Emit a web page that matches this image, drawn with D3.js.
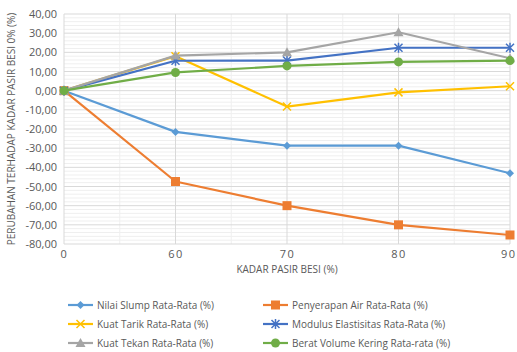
<!DOCTYPE html>
<html><head><meta charset="utf-8">
<script src="https://cdn.jsdelivr.net/npm/d3@7"></script>
<style>body{margin:0;background:#fff}text{font-family:"Open Sans",sans-serif;fill:#595959}</style>
</head><body><svg id="c" width="517" height="352"></svg>
<script>
const categories = ["0","60","70","80","90"];
const slump = [0, -21.5, -28.7, -28.7, -43.1];
const penyerapan = [0, -47.4, -60.0, -70.0, -75.3];
const tarik = [0, 18.0, -8.3, -0.9, 2.3];
const modulus = [0, 15.6, 15.7, 22.4, 22.4];
const tekan = [0, 18.3, 20.0, 30.5, 16.9];
const berat = [0, 9.5, 12.9, 15.0, 15.7];
const yTicks = [40,30,20,10,0,-10,-20,-30,-40,-50,-60,-70,-80];
const seriesNames = ["Nilai Slump Rata-Rata (%)","Penyerapan Air Rata-Rata (%)","Kuat Tarik Rata-Rata (%)","Modulus Elastisitas Rata-Rata (%)","Kuat Tekan Rata-Rata (%)","Berat Volume Kering Rata-rata (%)"];
const colors = ["#5B9BD5","#ED7D31","#FFC000","#4472C4","#A5A5A5","#70AD47"];
const markers = ["diamond","square","x","star","triangle","circle"];
const data = [slump, penyerapan, tarik, modulus, tekan, berat];

const svg = d3.select("#c");
const L=64, R=510, T=14, B=244;
const x = d3.scalePoint().domain(categories).range([L,R]);
const y = d3.scaleLinear().domain([-80,40]).range([B,T]);
const g = svg.append("g");
d3.range(-80,40.1,2).forEach(v=>{ if(v%10!==0) g.append("line").attr("x1",L).attr("x2",R).attr("y1",y(v)).attr("y2",y(v)).attr("stroke","#efefef").attr("stroke-width",1);});
for(let i=0;i<categories.length-1;i++){ const xm=(x(categories[i])+x(categories[i+1]))/2; g.append("line").attr("x1",xm).attr("x2",xm).attr("y1",T).attr("y2",B).attr("stroke","#efefef");}
yTicks.forEach(v=>g.append("line").attr("x1",L).attr("x2",R).attr("y1",y(v)).attr("y2",y(v)).attr("stroke","#d9d9d9"));
categories.forEach(c=>g.append("line").attr("x1",x(c)).attr("x2",x(c)).attr("y1",T).attr("y2",B).attr("stroke","#d9d9d9"));

const fmt = v => v.toFixed(2).replace(".",",");
const ya = svg.append("g").attr("transform",`translate(${L-7},0)`).call(d3.axisLeft(y).tickValues(yTicks).tickFormat(fmt).tickSize(0).tickPadding(0));
ya.select(".domain").remove();
ya.selectAll("text").attr("font-size",11).attr("fill","#595959").style("font-family","Open Sans");
const xa = svg.append("g").attr("transform",`translate(0,${B+6})`).call(d3.axisBottom(x).tickSize(0).tickPadding(0));
xa.select(".domain").remove();
xa.selectAll("text").attr("font-size",11).attr("fill","#595959").attr("dy","0.75em").style("letter-spacing","1.5px").style("font-family","Open Sans");
xa.selectAll("text").filter(d=>d==="90").attr("text-anchor","end").attr("dx","6");

svg.append("text").attr("x",287).attr("y",273).attr("text-anchor","middle").attr("font-size",10).text("KADAR PASIR BESI (%)");
svg.append("text").attr("transform",`translate(15,${(T+B)/2}) rotate(-90)`).attr("text-anchor","middle").attr("font-size",10).text("PERUBAHAN TERHADAP KADAR PASIR BESI 0% (%)");

function drawMarker(sel, type, color, cx, cy){
  const s = sel.append("g").attr("transform",`translate(${cx},${cy})`);
  if(type==="diamond") s.append("path").attr("d","M0,-4L4,0L0,4L-4,0Z").attr("fill",color);
  if(type==="square") s.append("rect").attr("x",-4.5).attr("y",-4.5).attr("width",9).attr("height",9).attr("fill",color);
  if(type==="x") s.append("path").attr("d","M-4,-4L4,4M-4,4L4,-4").attr("stroke",color).attr("stroke-width",1.5);
  if(type==="star") s.append("path").attr("d","M-4,-4L4,4M-4,4L4,-4M0,-5L0,5").attr("stroke",color).attr("stroke-width",1.5);
  if(type==="triangle") s.append("path").attr("d","M0,-5L5,4L-5,4Z").attr("fill",color);
  if(type==="circle") s.append("circle").attr("r",4.5).attr("fill",color);
}
const line = d3.line().x((d,i)=>x(categories[i])).y(d=>y(d));
data.forEach((arr,k)=>{
  svg.append("path").datum(arr).attr("d",line).attr("fill","none").attr("stroke",colors[k]).attr("stroke-width",2.2).attr("stroke-linejoin","round");
  arr.forEach((v,i)=>drawMarker(svg,markers[k],colors[k],x(categories[i]),y(v)));
});
seriesNames.forEach((n,k)=>{
  const col=k%2, row=Math.floor(k/2);
  const lx = col===0?68:263, ly = 305+row*19;
  svg.append("line").attr("x1",lx).attr("x2",lx+25).attr("y1",ly).attr("y2",ly).attr("stroke",colors[k]).attr("stroke-width",2.2);
  drawMarker(svg,markers[k],colors[k],lx+12.5,ly);
  svg.append("text").attr("x",lx+29).attr("y",ly).attr("dy","0.35em").attr("font-size",10).text(n);
});
</script></body></html>
